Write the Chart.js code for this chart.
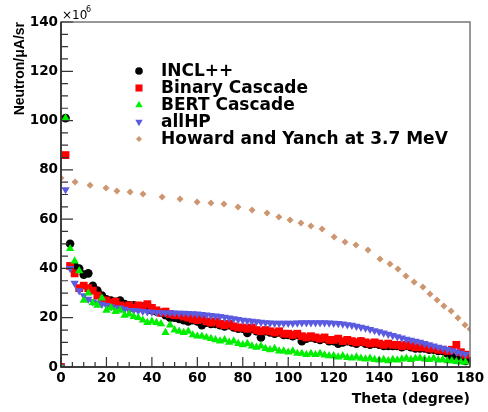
<!DOCTYPE html>
<html>
<head>
<meta charset="utf-8">
<script src="https://cdn.jsdelivr.net/npm/chart.js@4/dist/chart.umd.min.js"></script>
<style>
  html, body { margin: 0; padding: 0; background: #fff; }
  #wrap { width: 488px; height: 412px; }
</style>
</head>
<body>
<div id="wrap"><canvas id="c" width="488" height="412"></canvas></div>
<script>
// angle bins (degree)
const theta = [0, 2, 4, 6, 8, 10, 12, 14, 16, 18, 20, 22, 24, 26, 28, 30, 32, 34, 36, 38,
  40, 42, 44, 46, 48, 50, 52, 54, 56, 58, 60, 62, 64, 66, 68, 70, 72, 74, 76, 78,
  80, 82, 84, 86, 88, 90, 92, 94, 96, 98, 100, 102, 104, 106, 108, 110, 112, 114, 116, 118,
  120, 122, 124, 126, 128, 130, 132, 134, 136, 138, 140, 142, 144, 146, 148, 150, 152, 154, 156, 158,
  160, 162, 164, 166, 168, 170, 172, 174, 176, 178];

// neutron yield, x10^6 per uA per sr
const incl = [0, 101, 50, 41, 40, 37.5, 38, 33, 31, 29, 27.5, 27, 26.5, 27, 25.5, 25, 25, 24, 24.5, 25,
  23, 22.5, 22, 21, 20, 20, 19.5, 19, 18.5, 19, 18.5, 17, 18, 17.5, 17.5, 17, 16.5, 17, 16, 15.5,
  15.5, 13.8, 15.5, 14.5, 12, 14.5, 14, 13.5, 14, 13, 13, 12.5, 13, 10.5, 11.5, 12, 11.5, 11, 11.5, 10.5,
  10.5, 9.5, 10, 10.5, 10, 9.5, 10.3, 9.5, 9, 9.5, 9, 8.5, 8.5, 8.5, 8.5, 8, 8.5, 8, 7.5, 7.5,
  7.5, 7, 7, 6.5, 6.5, 5.5, 4.2, 4.5, 4, 2.5];
const binary = [0, 86, 41, 38, 32, 33, 32, 31, 29, 27, 27, 26, 26.5, 25, 24.5, 25, 24, 25, 24.5, 25.5,
  24, 23, 22, 22.5, 21.5, 21, 21, 20.5, 20, 19.5, 19, 19.5, 18.5, 18, 18.5, 17.5, 17, 17.5, 16.5, 16,
  16, 15.5, 16, 15, 14.5, 15, 14.5, 14, 14.5, 13.5, 13.5, 13, 13.5, 12.5, 12, 12.5, 12, 11.5, 12, 11,
  11, 11.5, 10.5, 11, 10.5, 10, 10.5, 10, 9.5, 10, 9.5, 9, 9.5, 9, 9, 8.5, 9, 8.5, 8, 8,
  8, 7.5, 7.5, 7, 7, 6.5, 7, 9, 6, 5];
const bert = [0, 101, 48, 43, 39, 27, 30, 26, 25, 28, 23, 24, 22.5, 23, 21, 21.5, 20.5, 20, 19, 18,
  18.5, 18, 17.5, 14, 17, 15, 14.5, 14, 14.5, 13, 12.5, 12.5, 12, 11.5, 11, 10.5, 11, 10, 10.5, 9.5,
  9, 9.5, 8.5, 8, 8.5, 7.5, 7, 7.5, 6.5, 6.5, 6, 6.5, 5.5, 5.5, 5, 5.5, 5, 5.5, 4.8, 4.5,
  4.5, 4, 4.5, 3.8, 3.6, 4, 3.5, 3.2, 3.5, 3, 2.8, 3, 2.5, 3, 2.8, 3.2, 3.5, 3, 3.5, 3.6,
  3.2, 3, 3.5, 2.8, 3, 2.5, 2.5, 2.2, 2, 2];
const allhp = [0, 72, 40, 34, 31, 29, 27.5, 26.5, 26, 25.5, 25, 24.5, 24, 24, 23.5, 23, 23, 22.8, 22.6, 22.4,
  22.3, 22.2, 22.1, 22, 22, 22, 21.9, 21.9, 21.8, 21.7, 21.5, 21.3, 21.1, 20.9, 20.7, 20.5, 20.2, 19.9, 19.6, 19.3,
  19, 18.8, 18.6, 18.4, 18.2, 18, 17.9, 17.8, 17.8, 17.8, 17.8, 17.8, 17.9, 18, 18, 18, 18, 18, 18, 17.9,
  17.8, 17.7, 17.5, 17.2, 17, 16.6, 16.2, 15.8, 15.3, 14.8, 14.3, 13.8, 13.3, 12.8, 12.3, 11.8, 11.3, 10.9, 10.5, 10.1,
  9.6, 9.1, 8.6, 8.1, 7.6, 7.1, 6.6, 6.1, 5.6, 5.1];

// Howard and Yanch reference curve
const howardTheta = [0, 6.2, 12.8, 19.8, 24.6, 30.4, 36.1, 44.5, 52.4, 59.9, 66, 71.7, 77.9, 84.1, 90.7, 95.9,
  100.8, 105.6, 110, 114.9, 120.2, 125, 129.8, 135.1, 140.4, 144.8, 148.3, 151.8, 155.4, 159.3,
  162.4, 165.5, 168.5, 171.7, 174.7, 177.8, 180];
const howardFlux = [76.7, 75.1, 73.8, 72.6, 71.4, 71, 70.2, 69, 68.2, 67, 66.6, 66.1, 64.9, 63.7, 62.5, 60.9,
  59.7, 58.4, 57.2, 56, 52.8, 50.7, 49.5, 47.5, 43.8, 41.8, 39.8, 36.9, 34.5, 32.5,
  29.6, 27.2, 24.8, 22.7, 19.9, 17, 15.4];

const seriesNames = ['INCL++', 'Binary Cascade', 'BERT Cascade', 'allHP', 'Howard and Yanch at 3.7 MeV'];

const BOLD = '"DejaVu Sans", sans-serif';

function pts(xs, ys) {
  return xs.map((x, i) => ({ x: x, y: ys[i] }));
}

const styles = [
  { pointStyle: 'circle', radius: 4.3, color: '#000000', rotation: 0 },
  { pointStyle: 'rect', radius: 5.5, color: '#ff0000', rotation: 0 },
  { pointStyle: 'triangle', radius: 4.8, color: '#00ee00', rotation: 0 },
  { pointStyle: 'triangle', radius: 4.8, color: '#5b5be0', rotation: 180 },
  { pointStyle: 'rectRot', radius: 3.5, color: '#cc9670', rotation: 0 }
];

// ROOT style frame, inner ticks, axis title, exponent and legend
const rootFrame = {
  id: 'rootFrame',
  afterDraw(chart) {
    const ctx = chart.ctx;
    const a = chart.chartArea;
    const xs = chart.scales.x, ys = chart.scales.y;
    ctx.save();
    // frame
    ctx.strokeStyle = '#777';
    ctx.lineWidth = 1.5;
    ctx.strokeRect(a.left, a.top, a.right - a.left, a.bottom - a.top);
    ctx.strokeStyle = '#222';
    ctx.beginPath();
    ctx.moveTo(a.left, a.top);
    ctx.lineTo(a.left, a.bottom);
    ctx.lineTo(a.right, a.bottom);
    ctx.stroke();
    // ticks
    ctx.lineWidth = 1.2;
    ctx.strokeStyle = '#333';
    ctx.beginPath();
    for (let v = 0; v <= 180; v += 5) {
      const px = xs.getPixelForValue(v);
      const len = v % 20 === 0 ? 10 : 5;
      ctx.moveTo(px, a.bottom);
      ctx.lineTo(px, a.bottom - len);
    }
    for (let v = 0; v <= 140; v += 5) {
      const py = ys.getPixelForValue(v);
      const len = v % 20 === 0 ? 12 : 7;
      ctx.moveTo(a.left, py);
      ctx.lineTo(a.left + len, py);
    }
    ctx.stroke();
    // exponent
    ctx.fillStyle = '#000';
    ctx.textBaseline = 'alphabetic';
    ctx.textAlign = 'left';
    ctx.font = '12px ' + BOLD;
    ctx.fillText('\u00d710', a.left + 1, 19);
    ctx.font = '8px ' + BOLD;
    ctx.fillText('6', a.left + 25, 12);
    // y title
    ctx.save();
    ctx.translate(20, a.top);
    ctx.rotate(-Math.PI / 2);
    ctx.textAlign = 'right';
    ctx.textBaseline = 'middle';
    ctx.font = 'bold 14px "Liberation Sans", Arial, sans-serif';
    ctx.fillText('Neutron/\u03bcA/sr', 0, 0);
    ctx.restore();
    // legend
    const rows = [71, 88, 105, 122, 139];
    ctx.font = 'bold 17px ' + BOLD;
    ctx.textBaseline = 'middle';
    ctx.textAlign = 'left';
    chart.data.datasets.forEach((ds, i) => {
      const st = styles[i];
      ctx.fillStyle = st.color;
      ctx.strokeStyle = st.color;
      Chart.helpers.drawPoint(ctx, {
        pointStyle: st.pointStyle, radius: st.radius - 0.5, rotation: st.rotation, borderWidth: 0
      }, 139, rows[i]);
      ctx.fillStyle = '#000';
      ctx.fillText(ds.label, 161, rows[i] + 1);
    });
    ctx.restore();
  }
};

const datasets = [incl, binary, bert, allhp].map((vals, i) => ({
  label: seriesNames[i],
  data: pts(theta, vals),
  pointStyle: styles[i].pointStyle,
  pointRadius: styles[i].radius,
  pointRotation: styles[i].rotation,
  backgroundColor: styles[i].color,
  borderColor: styles[i].color,
  borderWidth: 0,
  order: [4, 3, 1, 2][i]
}));
datasets.push({
  label: seriesNames[4],
  data: pts(howardTheta, howardFlux),
  pointStyle: styles[4].pointStyle,
  pointRadius: styles[4].radius,
  backgroundColor: styles[4].color,
  borderColor: styles[4].color,
  borderWidth: 0,
  order: 0
});

new Chart(document.getElementById('c').getContext('2d'), {
  type: 'scatter',
  data: { datasets: datasets },
  options: {
    responsive: false,
    animation: false,
    layout: { padding: { top: 22, right: 18, left: 0, bottom: 0 } },
    plugins: { legend: { display: false }, tooltip: { enabled: false } },
    scales: {
      x: {
        min: 0, max: 180,
        grid: { display: false, drawTicks: false },
        border: { display: false },
        ticks: { stepSize: 20, padding: 3, color: '#000', font: { family: BOLD, size: 13.5, weight: 'bold' }, maxRotation: 0 },
        title: { display: true, text: 'Theta (degree)', align: 'end', color: '#000', font: { family: BOLD, size: 14, weight: 'bold' }, padding: { top: 0, bottom: 4 } },
        afterFit(s) { s.height = 45; }
      },
      y: {
        min: 0, max: 140,
        grid: { display: false, drawTicks: false },
        border: { display: false },
        ticks: { stepSize: 20, padding: 3, color: '#000', font: { family: BOLD, size: 13.5, weight: 'bold' } },
        afterFit(s) { s.width = 61; }
      }
    }
  },
  plugins: [rootFrame]
});
</script>
</body>
</html>
